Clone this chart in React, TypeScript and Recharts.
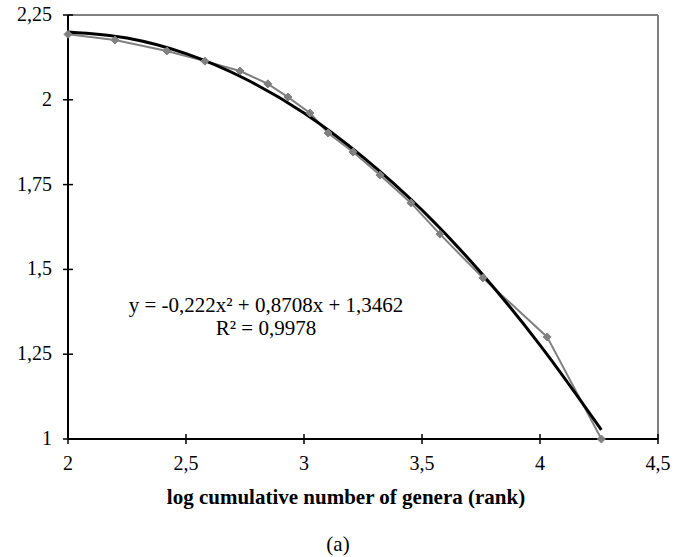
import { LineChart, Line, XAxis, YAxis, ReferenceLine } from "recharts";

const FONT = '"Liberation Serif", "Times New Roman", serif';

// observed points (grey, diamond markers)
const rankX = [2, 2.199, 2.419, 2.58, 2.729, 2.847, 2.932, 3.025, 3.102, 3.208, 3.322, 3.453, 3.576, 3.758, 4.03, 4.26];
const rankY = [2.193, 2.176, 2.144, 2.114, 2.085, 2.047, 2.008, 1.961, 1.902, 1.846, 1.778, 1.696, 1.604, 1.475, 1.301, 1.0];

// polynomial trend line (black)
const trendX = [2, 2.25, 2.5, 2.75, 3, 3.25, 3.5, 3.75, 4, 4.26];
const trendY = [2.2, 2.182, 2.136, 2.062, 1.961, 1.831, 1.675, 1.49, 1.277, 1.027];

const xTicks = [2, 2.5, 3, 3.5, 4, 4.5];
const yTicks = [1, 1.25, 1.5, 1.75, 2, 2.25];

const equation = "y = -0,222x² + 0,8708x + 1,3462";
const rSquared = "R² = 0,9978";
const xTitle = "log cumulative number of genera (rank)";
const caption = "(a)";

const observed = rankX.map((x, i) => ({ x, y: rankY[i] }));
const trend = trendX.map((x, i) => ({ x, y: trendY[i] }));

const fmt = (v: number) => String(v).replace(".", ",");

const textStyle = { fontFamily: FONT };

// ticks cross the axis line, 5px each side
function YTick(props: any) {
  const { x, y, payload } = props;
  return (
    <g>
      <line x1={x - 5} x2={x + 5} y1={y} y2={y} stroke="#000" strokeWidth={1.5} />
      <text x={x - 16} y={y + 6} textAnchor="end" style={textStyle} fontSize={20} fill="#000">
        {fmt(payload.value)}
      </text>
    </g>
  );
}

function XTick(props: any) {
  const { x, y, payload } = props;
  return (
    <g>
      <line x1={x} x2={x} y1={y - 5} y2={y + 5} stroke="#000" strokeWidth={1.5} />
      <text x={x} y={y + 31} textAnchor="middle" style={textStyle} fontSize={20} fill="#000">
        {fmt(payload.value)}
      </text>
    </g>
  );
}

function Diamond(props: any) {
  const { cx, cy, index } = props;
  const r = 4;
  return (
    <path
      key={`d-${index}`}
      d={`M${cx},${cy - r} L${cx + r},${cy} L${cx},${cy + r} L${cx - r},${cy} Z`}
      fill="#808080"
      stroke="#808080"
    />
  );
}

export default function App() {
  return (
    <div style={{ position: "absolute", left: 0, top: 0, width: 682, height: 557, background: "#fff" }}>
      <LineChart width={682} height={557} margin={{ top: 15, right: 24, bottom: 0, left: 0 }}>
        <XAxis
          type="number"
          dataKey="x"
          domain={[2, 4.5]}
          ticks={xTicks}
          tick={<XTick />}
          tickSize={0}
          tickMargin={0}
          tickLine={false}
          height={118}
          axisLine={{ stroke: "#000", strokeWidth: 2 }}
        />
        <YAxis
          type="number"
          dataKey="y"
          domain={[1, 2.25]}
          ticks={yTicks}
          tick={<YTick />}
          tickSize={0}
          tickMargin={0}
          tickLine={false}
          width={68}
          axisLine={{ stroke: "#000", strokeWidth: 2 }}
        />
        <ReferenceLine y={2.25} stroke="#808080" strokeWidth={2} />
        <ReferenceLine x={4.5} stroke="#808080" strokeWidth={2} />
        <Line
          data={observed}
          dataKey="y"
          stroke="#808080"
          strokeWidth={2}
          dot={<Diamond />}
          activeDot={false}
          isAnimationActive={false}
        />
        <Line
          data={trend}
          dataKey="y"
          type="monotone"
          stroke="#000"
          strokeWidth={3}
          dot={false}
          activeDot={false}
          isAnimationActive={false}
        />
      </LineChart>
      <svg
        width={682}
        height={557}
        style={{ position: "absolute", left: 0, top: 0, pointerEvents: "none" }}
      >
        <text x={266} y={312} textAnchor="middle" style={textStyle} fontSize={21} fill="#000">
          {equation}
        </text>
        <text x={266} y={335} textAnchor="middle" style={textStyle} fontSize={21} fill="#000">
          {rSquared}
        </text>
        <text x={346} y={504} textAnchor="middle" style={textStyle} fontSize={21} fontWeight="bold" fill="#000">
          {xTitle}
        </text>
        <text x={338} y={551} textAnchor="middle" style={textStyle} fontSize={21} fill="#000">
          {caption}
        </text>
      </svg>
    </div>
  );
}
